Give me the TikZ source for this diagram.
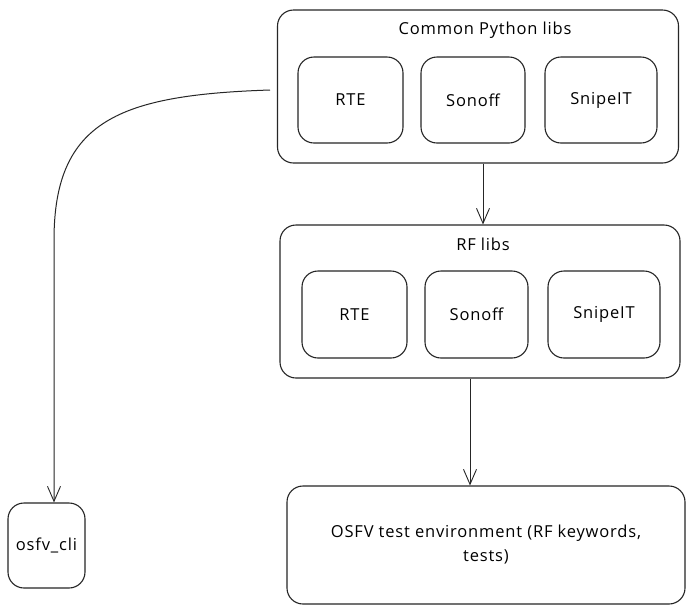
\documentclass[tikz,border=0pt]{standalone}
\usepackage{fontspec}
\setmainfont{Open Sans}[LetterSpace=5]
\usetikzlibrary{arrows.meta}
\begin{document}
\begin{tikzpicture}[x=1pt,y=-1pt,
  box/.style={draw=black!85,line width=1.1pt,rounded corners=16pt,inner sep=0pt,font=\fontsize{16.5}{24}\selectfont},
  arr/.style={draw=black!85,line width=1pt,-{Straight Barb[length=15pt,width=13pt,line width=0.9pt]}},
  lbl/.style={font=\fontsize{16.5}{20}\selectfont}]
\useasboundingbox (0,0) rectangle (697,614);
\fill[white] (0,0) rectangle (697,614);
% Common Python libs
\node[box,minimum width=401pt,minimum height=153pt] (cpl) at (478,86.5) {};
\node[lbl] (cplt) at (485,30) {Common Python libs};
\node[box,minimum width=105pt,minimum height=86pt] (c1) at (350.5,100) {RTE};
\node[box,minimum width=104pt,minimum height=86pt] (c2) at (473,100) {Sonoff};
\node[box,minimum width=112pt,minimum height=86pt] (c3) at (601,100) {SnipeIT};
% RF libs
\node[box,minimum width=400pt,minimum height=153pt] (rfl) at (480,301.5) {};
\node[lbl] (rflt) at (483,244) {RF libs};
\node[box,minimum width=105pt,minimum height=87pt] (r1) at (354.5,314.5) {RTE};
\node[box,minimum width=103pt,minimum height=87pt] (r2) at (476.5,314.5) {Sonoff};
\node[box,minimum width=112pt,minimum height=87pt] (r3) at (604,314.5) {SnipeIT};
% OSFV
\node[box,minimum width=398pt,minimum height=118pt,align=center] (osfv) at (486,545) {OSFV test environment (RF keywords,\\tests)};
\node[box,minimum width=77pt,minimum height=85pt] (cli) at (46.5,545.5) {osfv\_cli};
% arrows
\draw[arr] (cpl.south -| 483,0) -- (rfl.north -| 483,0);
\draw[arr] (rfl.south -| 470,0) -- (osfv.north -| 470,0);
\coordinate (cs) at (270,90);
\draw[arr] (cs) .. controls (120,95) and (54,120) .. (54,240) -- (cli.north -| 54,0);
\end{tikzpicture}
\end{document}
